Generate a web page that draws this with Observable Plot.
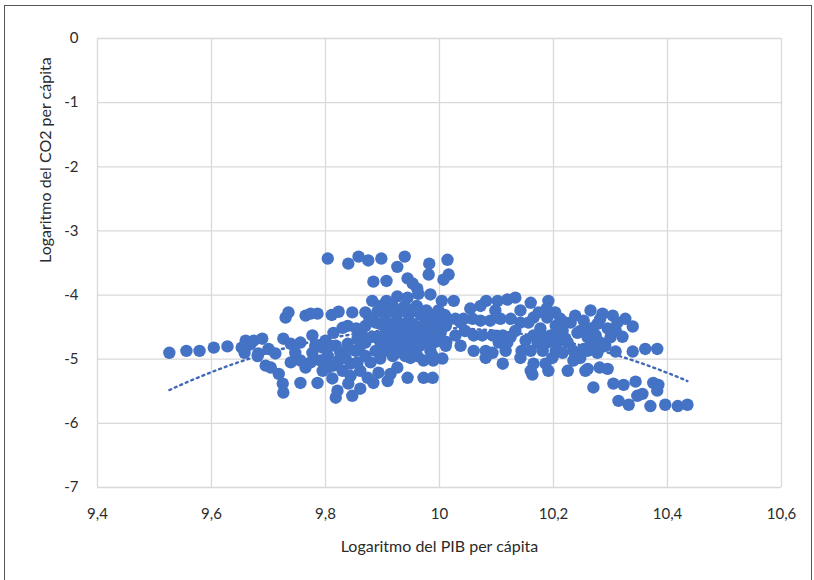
<!DOCTYPE html>
<html>
<head>
<meta charset="utf-8">
<script src="https://cdn.jsdelivr.net/npm/d3@7"></script>
<script src="https://cdn.jsdelivr.net/npm/@observablehq/plot@0.6"></script>
<style>
  body { margin: 0; background: #fff; }
  #chart { position: relative; width: 814px; height: 580px; overflow: hidden; background: #fff; }
  #chart::after {
    content: ""; position: absolute; left: 4px; top: 5px; width: 806px; height: 600px;
    border: 1.5px solid #555; pointer-events: none;
  }
  #chart svg { display: block; }
</style>
</head>
<body>
<div id="chart"></div>
<script>
// Logaritmo del PIB per cápita (x) y logaritmo del CO2 per cápita (y), observación a observación
const logPib = [
  9.526, 9.556, 9.579, 9.604, 9.628, 9.653, 9.660, 9.668, 9.681, 9.658,
  9.674, 9.689, 9.700, 9.682, 9.712, 9.726, 9.739, 9.756, 9.777, 9.782,
  9.795, 9.814, 9.830, 9.839, 9.839, 9.695, 9.704, 9.718, 9.756, 9.765,
  9.774, 9.756, 9.725, 9.726, 9.786, 9.795, 9.804, 9.812, 9.818, 9.821,
  9.840, 9.847, 9.861, 9.830, 9.844, 9.861, 9.874, 9.884, 9.893, 9.909,
  9.914, 9.926, 9.944, 9.972, 9.988, 9.972, 9.989, 10.005, 9.949, 9.923,
  9.730, 9.735, 9.765, 9.774, 9.786, 9.811, 9.823, 9.847, 9.870, 9.891,
  9.804, 9.840, 9.858, 9.875, 9.898, 9.939, 9.926, 9.982, 9.981, 10.014,
  10.016, 10.007, 9.884, 9.907, 9.944, 9.953, 9.961, 9.882, 9.907, 9.926,
  9.944, 9.963, 9.984, 10.004, 10.025, 10.054,
  9.800, 9.818, 9.856, 9.870, 9.882, 9.804, 9.826, 9.853, 9.870, 9.888,
  9.791, 9.823, 9.879, 9.896, 9.854, 9.870, 9.888, 9.777, 9.747, 9.739,
  9.896, 9.918, 9.939, 9.960,
  9.905, 9.925, 9.946, 9.967, 9.988, 10.009,
  9.896, 9.916, 9.935, 9.954, 9.974, 9.993, 10.012,
  9.905, 9.925, 9.944, 9.963, 9.982, 10.002,
  9.896, 9.916, 9.935, 9.954, 9.974, 9.993, 10.012,
  9.905, 9.932, 9.958, 9.984,
  9.979, 9.998, 10.014, 10.028, 10.042, 10.058,
  9.914, 9.935, 9.956, 9.977, 9.998,
  9.907, 9.926, 9.946, 9.965, 9.984, 10.004,
  9.896, 9.916, 9.935, 9.954, 9.974, 9.993,
  9.907, 9.926, 9.946, 9.965, 9.984,
  9.918, 9.940, 9.961, 9.988,
  9.809, 9.840, 9.861, 9.835, 9.856, 9.814, 9.844, 9.863, 9.877,
  10.011, 10.037, 10.072, 10.089, 10.028, 10.011, 10.037, 10.060, 10.075, 10.093,
  10.111, 10.125, 10.104, 10.119, 10.060, 10.081, 10.093, 10.116, 10.081, 10.111,
  10.082, 10.102, 10.119, 10.133, 10.107, 10.125, 10.142, 10.165, 10.189, 10.160,
  10.191, 10.188,
  10.133, 10.151, 10.177, 10.195, 10.142, 10.174, 10.203, 10.156, 10.098, 10.072, 10.045,
  10.165, 10.182, 10.172, 10.189, 10.207, 10.225, 10.144, 10.160, 10.181, 10.204,
  10.235, 10.260, 10.142, 10.198, 10.247, 10.165, 10.186, 10.160, 10.191, 10.225,
  10.163, 10.204, 10.216, 10.230, 10.242, 10.212,
  10.207, 10.221, 10.247, 10.265, 10.238, 10.221, 10.274, 10.291, 10.265, 10.235,
  10.216, 10.309, 10.326, 10.282,
  10.265, 10.286, 10.304, 10.253, 10.277, 10.295, 10.312, 10.339, 10.321, 10.260,
  10.282, 10.300, 10.253, 10.277, 10.309, 10.339, 10.361, 10.382, 10.260, 10.281,
  10.295, 10.256, 10.270, 10.305, 10.323, 10.344, 10.375, 10.384, 10.382, 10.356,
  10.347, 10.314, 10.332, 10.370, 10.396, 10.418, 10.435
];
const logCo2 = [
  -4.90, -4.87, -4.87, -4.82, -4.80, -4.82, -4.71, -4.77, -4.95, -4.90,
  -4.71, -4.68, -4.84, -4.91, -4.91, -4.68, -4.76, -4.74, -4.63, -4.79,
  -4.82, -4.59, -4.51, -4.48, -4.76, -5.10, -5.13, -5.23, -5.02, -5.13,
  -5.05, -5.37, -5.38, -5.52, -5.37, -5.18, -5.13, -5.30, -5.60, -5.49,
  -5.38, -5.57, -5.46, -5.18, -5.07, -5.18, -5.29, -5.37, -5.21, -5.34,
  -5.23, -5.13, -5.29, -5.29, -5.29, -5.02, -5.02, -4.99, -4.98, -4.91,
  -4.35, -4.27, -4.32, -4.29, -4.29, -4.31, -4.26, -4.27, -4.27, -4.26,
  -3.43, -3.51, -3.40, -3.46, -3.43, -3.40, -3.56, -3.51, -3.68, -3.45,
  -3.68, -3.76, -3.79, -3.78, -3.74, -3.82, -3.90, -4.09, -4.09, -4.02,
  -4.04, -3.98, -3.99, -4.09, -4.09, -4.21,
  -4.71, -4.79, -4.68, -4.74, -4.65, -4.95, -4.90, -4.87, -4.95, -4.87,
  -5.02, -5.02, -5.05, -4.99, -4.52, -4.48, -4.43, -4.90, -4.90, -5.05,
  -4.17, -4.17, -4.17, -4.17,
  -4.31, -4.31, -4.31, -4.31, -4.31, -4.31,
  -4.45, -4.45, -4.45, -4.45, -4.45, -4.45, -4.45,
  -4.59, -4.59, -4.59, -4.59, -4.59, -4.59,
  -4.73, -4.73, -4.73, -4.73, -4.73, -4.73, -4.73,
  -4.87, -4.87, -4.87, -4.87,
  -4.37, -4.37, -4.37, -4.37, -4.37, -4.37,
  -4.24, -4.24, -4.24, -4.24, -4.24,
  -4.52, -4.52, -4.52, -4.52, -4.52, -4.52,
  -4.66, -4.66, -4.66, -4.66, -4.66, -4.66,
  -4.79, -4.79, -4.79, -4.79, -4.79,
  -4.95, -4.95, -4.95, -4.95,
  -4.79, -4.84, -4.79, -4.98, -5.05, -5.10, -5.26, -4.59, -4.37,
  -4.48, -4.43, -4.40, -4.40, -4.63, -4.79, -4.79, -4.63, -4.63, -4.63,
  -4.63, -4.65, -4.74, -4.74, -4.87, -4.87, -4.90, -4.87, -4.98, -5.07,
  -4.09, -4.09, -4.07, -4.04, -4.37, -4.37, -4.43, -4.35, -4.35, -4.12,
  -4.09, -4.21,
  -4.56, -4.71, -4.52, -4.63, -4.24, -4.27, -4.27, -4.43, -4.24, -4.17, -4.56,
  -4.63, -4.65, -4.74, -4.74, -4.74, -4.74, -4.87, -4.87, -4.87, -4.87,
  -4.87, -4.87, -4.98, -4.98, -4.98, -5.07, -5.07, -5.18, -5.18, -5.18,
  -5.24, -4.48, -4.56, -4.43, -4.59, -4.37,
  -4.62, -4.68, -4.56, -4.52, -4.32, -4.43, -4.63, -4.79, -4.79, -5.02,
  -4.90, -4.55, -4.37, -4.37,
  -4.24, -4.29, -4.32, -4.40, -4.45, -4.52, -4.43, -4.49, -4.65, -4.66,
  -4.74, -4.66, -4.84, -4.90, -4.88, -4.88, -4.84, -4.84, -5.15, -5.13,
  -5.15, -5.18, -5.44, -5.38, -5.40, -5.35, -5.37, -5.40, -5.49, -5.54,
  -5.57, -5.65, -5.71, -5.73, -5.71, -5.73, -5.71
];
const xTicks = [9.4, 9.6, 9.8, 10, 10.2, 10.4, 10.6];
const yTicks = [-7, -6, -5, -4, -3, -2, -1, 0];
const xTitle = "Logaritmo del PIB per cápita";
const yTitle = "Logaritmo del CO2 per cápita";

const points = logPib.map((x, i) => ({x, y: logCo2[i]}));

// Polynomial (order 2) least-squares trendline over the observations
function quadraticFit(xs, ys) {
  const m = d3.mean(xs);
  const S = Array.from({length: 5}, (_, k) => d3.sum(xs, x => (x - m) ** k));
  const T = Array.from({length: 3}, (_, k) => d3.sum(xs, (x, i) => ys[i] * (x - m) ** k));
  const A = [[S[0], S[1], S[2], T[0]], [S[1], S[2], S[3], T[1]], [S[2], S[3], S[4], T[2]]];
  for (let c = 0; c < 3; c++) {
    for (let r = c + 1; r < 3; r++) {
      const f = A[r][c] / A[c][c];
      for (let k = c; k < 4; k++) A[r][k] -= f * A[c][k];
    }
  }
  const b = [0, 0, 0];
  for (let r = 2; r >= 0; r--) {
    let s = A[r][3];
    for (let k = r + 1; k < 3; k++) s -= A[r][k] * b[k];
    b[r] = s / A[r][r];
  }
  return x => b[0] + b[1] * (x - m) + b[2] * (x - m) ** 2;
}
const fit = quadraticFit(logPib, logCo2);
const [xMin, xMax] = d3.extent(logPib);
const trend = d3.range(0, 121).map(i => {
  const x = xMin + (xMax - xMin) * i / 120;
  return {x, y: fit(x)};
});

const fmtX = d => String(+d.toFixed(1)).replace(".", ",");
const fmtY = d => String(d);
const textColor = "#2b2b2b";

const chart = Plot.plot({
  width: 814,
  height: 580,
  marginLeft: 97,
  marginRight: 33,
  marginTop: 38,
  marginBottom: 93,
  style: {fontFamily: "Lato, 'Open Sans', sans-serif", fontSize: "15px", color: textColor, background: "transparent"},
  x: {domain: [9.4, 10.6]},
  y: {domain: [-7, 0]},
  marks: [
    Plot.gridX(xTicks, {stroke: "#d9d9d9", strokeOpacity: 1, strokeWidth: 1.3}),
    Plot.gridY(yTicks, {stroke: "#d9d9d9", strokeOpacity: 1, strokeWidth: 1.3}),
    Plot.axisX(xTicks, {tickSize: 0, tickPadding: 21, tickFormat: fmtX, label: null, fontSize: 15, fill: textColor}),
    Plot.axisY(yTicks, {tickSize: 0, tickPadding: 19, tickFormat: fmtY, label: null, fontSize: 15, fill: textColor}),
    Plot.line(trend, {x: "x", y: "y", stroke: "#4169b8", strokeWidth: 2.4, strokeDasharray: "2 4"}),
    Plot.dot(points, {x: "x", y: "y", r: 6.2, fill: "#4472C4", stroke: "none"}),
    Plot.text([xTitle], {frameAnchor: "bottom", dy: 59, fontSize: 16, fill: textColor, lineAnchor: "middle"}),
    Plot.text([yTitle], {frameAnchor: "left", dx: -52, rotate: -90, fontSize: 16, fill: textColor, lineAnchor: "middle"})
  ]
});
document.getElementById("chart").appendChild(chart);
</script>
</body>
</html>
